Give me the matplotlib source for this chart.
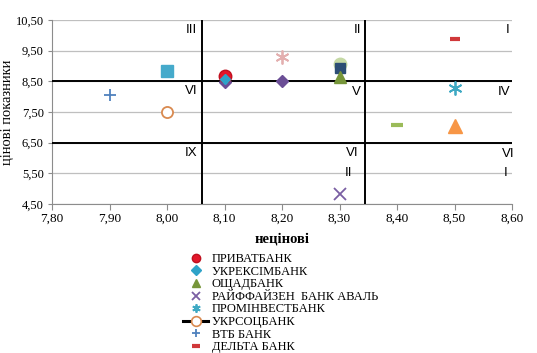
import matplotlib
matplotlib.use("Agg")
import matplotlib.pyplot as plt
from matplotlib.lines import Line2D

# ---- data ----
banks = ["ПРИВАТБАНК", "УКРЕКСІМБАНК", "ОЩАДБАНК", "РАЙФФАЙЗЕН  БАНК АВАЛЬ",
         "ПРОМІНВЕСТБАНК", "УКРСОЦБАНК", "ВТБ БАНК", "ДЕЛЬТА БАНК"]
bank_x = [8.10, 8.10, 8.30, 8.30, 8.50, 8.00, 7.90, 8.50]
bank_y = [8.66, 8.56, 8.64, 4.82, 8.29, 7.50, 8.04, 9.88]

other_x = [8.10, 8.20, 8.20, 8.00, 8.30, 8.30, 8.40, 8.50]
other_y = [8.48, 8.50, 9.30, 8.84, 9.08, 8.92, 7.06, 7.05]

xticks = [7.80, 7.90, 8.00, 8.10, 8.20, 8.30, 8.40, 8.50, 8.60]
yticks = [4.50, 5.50, 6.50, 7.50, 8.50, 9.50, 10.50]
h_lines = [8.5, 6.5]
v_lines = [8.06, 8.345]

# ---- styles ----
bank_style = [
    dict(marker="o", color="#E3172A", ms=9, mfc="#E3172A", mec="#C0101F"),
    dict(marker="D", color="#2FA3C8", ms=5, mfc="#2FA3C8", mec="#2FA3C8"),
    dict(marker="^", color="#77963A", ms=8, mfc="#77963A", mec="#77963A"),
    dict(marker="x", color="#7A5FA3", ms=8, mew=1.3),
    dict(marker=(6, 2, 0), color="#3FA9C3", ms=10, mew=1.3),
    dict(marker="o", color="#E0925A", ms=8, mfc="white", mec="#D98A50", mew=1.3),
    dict(marker="+", color="#4F81BD", ms=9, mew=1.3),
    dict(marker="_", color="#D0383A", ms=7, mew=3),
]
other_style = [
    dict(marker="D", color="#6B4E96", ms=6),
    dict(marker="D", color="#6B4E96", ms=6),
    dict(marker=(6, 2, 0), color="#E3AFAF", ms=10, mew=1.3),
    dict(marker="s", color="#45AACB", ms=8),
    dict(marker="o", color="#C5D9A5", ms=9),
    dict(marker="s", color="#2C4D75", ms=7),
    dict(marker="_", color="#9BBB59", ms=9, mew=3),
    dict(marker="^", color="#F79646", ms=10),
]

serif = ["Liberation Serif", "DejaVu Serif"]
sans = ["Liberation Sans", "DejaVu Sans"]

fig = plt.figure(figsize=(5.37, 3.53), dpi=100)
ax = fig.add_axes([52 / 537, 1 - 204 / 353, 460 / 537, 184 / 353])

for xv, yv, st in zip(other_x, other_y, other_style):
    ax.plot([xv], [yv], linestyle="none", zorder=4, **st)
for xv, yv, st in zip(bank_x, bank_y, bank_style):
    ax.plot([xv], [yv], linestyle="none", zorder=5, **st)

for h in h_lines:
    ax.axhline(h, color="black", lw=1.4, zorder=3)
for v in v_lines:
    ax.axvline(v, color="black", lw=1.4, zorder=3)

ax.set_xlim(7.80, 8.60)
ax.set_ylim(4.50, 10.50)
ax.set_xticks(xticks)
ax.set_yticks(yticks)
ax.set_xticklabels([f"{t:.2f}".replace(".", ",") for t in xticks], fontfamily=serif, fontsize=9.5)
ax.set_yticklabels([f"{t:.2f}".replace(".", ",") for t in yticks], fontfamily=serif, fontsize=9)
ax.grid(axis="y", color="#BFBFBF", lw=0.9, zorder=0)
ax.set_axisbelow(True)
for s in ["top", "right"]:
    ax.spines[s].set_visible(False)
for s in ["left", "bottom"]:
    ax.spines[s].set_color("#8C8C8C")
ax.tick_params(axis="both", colors="#8C8C8C", labelcolor="black", length=4, width=0.8, pad=2)
ax.tick_params(axis="y", length=3, pad=3)

ax.set_xlabel("нецінові", fontfamily=serif, fontsize=10.5, fontweight="bold", labelpad=6)
ax.set_ylabel("цінові показники", fontfamily=serif, fontsize=10.5)
ax.yaxis.set_label_coords(-0.083, 0.5)

# quadrant labels
def lab(txt, x, y, ha="right"):
    ax.text(x, y, txt, ha=ha, va="center", fontfamily=sans, fontsize=9.5, zorder=6)

lab("III", 8.053, 10.17)
lab("II", 8.337, 10.17)
lab("I", 8.596, 10.17)
lab("VI", 8.053, 8.18)
lab("V", 8.337, 8.14)
lab("IV", 8.598, 8.14)
lab("IX", 8.053, 6.17)
lab("VI", 8.311, 6.17, ha="left")
lab("II", 8.309, 5.52, ha="left")
lab("VI", 8.583, 6.12, ha="left")
lab("I", 8.585, 5.50, ha="left")

# legend
handles = []
for st in bank_style:
    s = dict(st)
    s["ms"] = min(s.get("ms", 6), 6)
    handles.append(Line2D([], [], linestyle="none", **s))
handles[5] = Line2D([], [], color="black", lw=2.2, marker="o", ms=7,
                    mfc="white", mec="#D98A50", mew=1.2)
fig.legend(handles, banks, loc="upper left", bbox_to_anchor=(183 / 537, 1 - 253 / 353),
           frameon=False, prop={"family": serif, "size": 9}, labelspacing=0.05,
           handlelength=2.0, handletextpad=0.3, borderpad=0, borderaxespad=0)

fig.savefig("out.png", dpi=100)
